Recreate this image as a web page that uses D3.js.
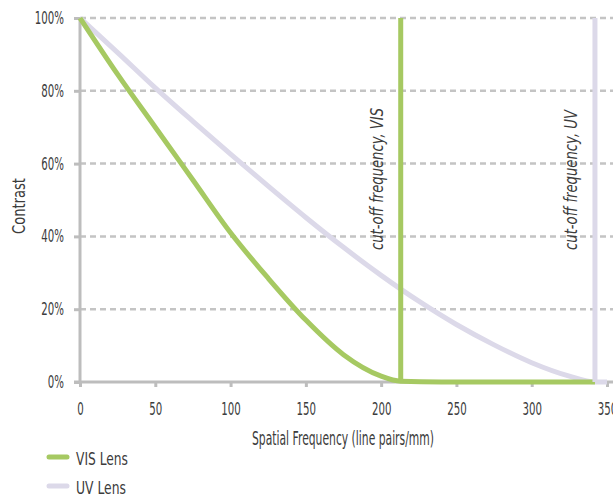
<!DOCTYPE html>
<html>
<head>
<meta charset="utf-8">
<script src="https://cdn.jsdelivr.net/npm/d3@7"></script>
<style>
  body { margin: 0; background: #fff; }
  text { font-family: "DejaVu Sans", sans-serif; fill: #3c3c3c; }
</style>
</head>
<body>
<div id="chart"></div>
<script>
// data
var xTicks = [0, 50, 100, 150, 200, 250, 300, 350];
var yTicks = [0, 20, 40, 60, 80, 100];

var visFreq = [0, 25, 50, 75, 100, 125, 150, 175, 200, 213, 240, 290, 342];
var visContrast = [100, 84.5, 70, 55.5, 41, 28.5, 17, 7.5, 1.6, 0.2, 0, 0, 0];

var uvFreq = [0, 25, 50, 75, 100, 125, 150, 175, 200, 225, 250, 275, 300, 325, 342, 350];
var uvContrast = [100, 90.5, 80.8, 71.6, 62.6, 53.8, 45.2, 37, 29.3, 22.2, 15.8, 10.2, 5.3, 1.6, 0, 0];

var cutoffs = [
  { name: "cut-off frequency, VIS", freq: 213, color: "#a6c962" },
  { name: "cut-off frequency, UV", freq: 342, color: "#dcd9e9" }
];

var legendItems = [
  { name: "VIS Lens", color: "#a6c962", width: 52 },
  { name: "UV Lens", color: "#dcd9e9", width: 50 }
];

var svgWidth = 613;
var svgHeight = 497;
var margin = { top: 18, right: 6, bottom: 115, left: 80 };
var width = svgWidth - margin.left - margin.right;
var height = svgHeight - margin.top - margin.bottom;

// squeeze text horizontally, the original uses a condensed face
function condense(sel, k) {
  sel.each(function() {
    var w = this.getComputedTextLength();
    d3.select(this).attr("textLength", w * k).attr("lengthAdjust", "spacingAndGlyphs");
  });
}

var svg = d3.select("#chart")
  .append("svg")
  .attr("width", svgWidth)
  .attr("height", svgHeight);

var chartGroup = svg.append("g")
  .attr("transform", `translate(${margin.left}, ${margin.top})`);

var x = d3.scaleLinear().domain([0, 350]).range([0, width]);
var y = d3.scaleLinear().domain([0, 100]).range([height, 0]);

// dashed gridlines
chartGroup.append("g")
  .selectAll("line")
  .data(yTicks.filter(d => d > 0))
  .enter()
  .append("line")
  .attr("x1", 0)
  .attr("x2", svgWidth - margin.left)
  .attr("y1", d => y(d))
  .attr("y2", d => y(d))
  .attr("stroke", "#c4c4c4")
  .attr("stroke-width", 2.5)
  .attr("stroke-dasharray", "6,4");

// axes
var leftAxis = d3.axisLeft(y).tickValues(yTicks).tickSize(6).tickPadding(10)
  .tickFormat(d => d + "%");
var bottomAxis = d3.axisBottom(x).tickValues(xTicks).tickSize(5).tickPadding(16)
  .tickFormat(d3.format("d"));

var yAxisG = chartGroup.append("g").call(leftAxis);
var xAxisG = chartGroup.append("g")
  .attr("transform", `translate(0, ${height})`)
  .call(bottomAxis);

[yAxisG, xAxisG].forEach(function(g) {
  g.select(".domain").remove();
  g.selectAll(".tick line").attr("stroke", "#bdbdbd").attr("stroke-width", 3);
  g.selectAll(".tick text")
    .style("font-size", "17px")
    .style("font-family", "DejaVu Sans")
    .attr("fill", "#3c3c3c")
    .call(condense, 0.6);
});

chartGroup.append("line")
  .attr("x1", 0).attr("x2", 0)
  .attr("y1", 0).attr("y2", height)
  .attr("stroke", "#bdbdbd").attr("stroke-width", 3);

chartGroup.append("line")
  .attr("x1", -6).attr("x2", svgWidth - margin.left)
  .attr("y1", height).attr("y2", height)
  .attr("stroke", "#bdbdbd").attr("stroke-width", 3);

// curves
var line = d3.line()
  .x(d => x(d[0]))
  .y(d => y(d[1]))
  .curve(d3.curveMonotoneX);

var visData = visFreq.map((f, i) => [f, visContrast[i]]);
var uvData = uvFreq.map((f, i) => [f, uvContrast[i]]);

chartGroup.append("path")
  .datum(uvData)
  .attr("d", line)
  .attr("fill", "none")
  .attr("stroke", "#dcd9e9")
  .attr("stroke-width", 5);

chartGroup.append("path")
  .datum(visData)
  .attr("d", line)
  .attr("fill", "none")
  .attr("stroke", "#a6c962")
  .attr("stroke-width", 5);

// cut-off lines
chartGroup.selectAll(".cutoff")
  .data(cutoffs)
  .enter()
  .append("line")
  .attr("class", "cutoff")
  .attr("x1", d => x(d.freq))
  .attr("x2", d => x(d.freq))
  .attr("y1", y(100))
  .attr("y2", y(0))
  .attr("stroke", d => d.color)
  .attr("stroke-width", 5);

chartGroup.selectAll(".cutoffText")
  .data(cutoffs)
  .enter()
  .append("text")
  .attr("class", "cutoffText")
  .attr("transform", d => `translate(${x(d.freq) - 18}, ${250 - margin.top}) rotate(-90)`)
  .attr("textLength", d => d.name.length > 21 ? 142 : 140)
  .attr("lengthAdjust", "spacingAndGlyphs")
  .style("font-size", "17px")
  .style("font-style", "italic")
  .text(d => d.name);

// axis labels
svg.append("text")
  .attr("transform", `translate(25, 206) rotate(-90)`)
  .attr("text-anchor", "middle")
  .attr("textLength", 56)
  .attr("lengthAdjust", "spacingAndGlyphs")
  .style("font-size", "18px")
  .text("Contrast");

svg.append("text")
  .attr("x", 252)
  .attr("y", 445)
  .attr("textLength", 182)
  .attr("lengthAdjust", "spacingAndGlyphs")
  .style("font-size", "19px")
  .text("Spatial Frequency (line pairs/mm)");

// legend
var legend = svg.append("g")
  .selectAll("g")
  .data(legendItems)
  .enter()
  .append("g")
  .attr("transform", (d, i) => `translate(49, ${457 + i * 29})`);

legend.append("line")
  .attr("x1", 0).attr("x2", 18)
  .attr("stroke", d => d.color)
  .attr("stroke-width", 5)
  .attr("stroke-linecap", "round");

legend.append("text")
  .attr("x", 27)
  .attr("y", 8)
  .attr("textLength", d => d.width)
  .attr("lengthAdjust", "spacingAndGlyphs")
  .style("font-size", "18px")
  .text(d => d.name);
</script>
</body>
</html>
